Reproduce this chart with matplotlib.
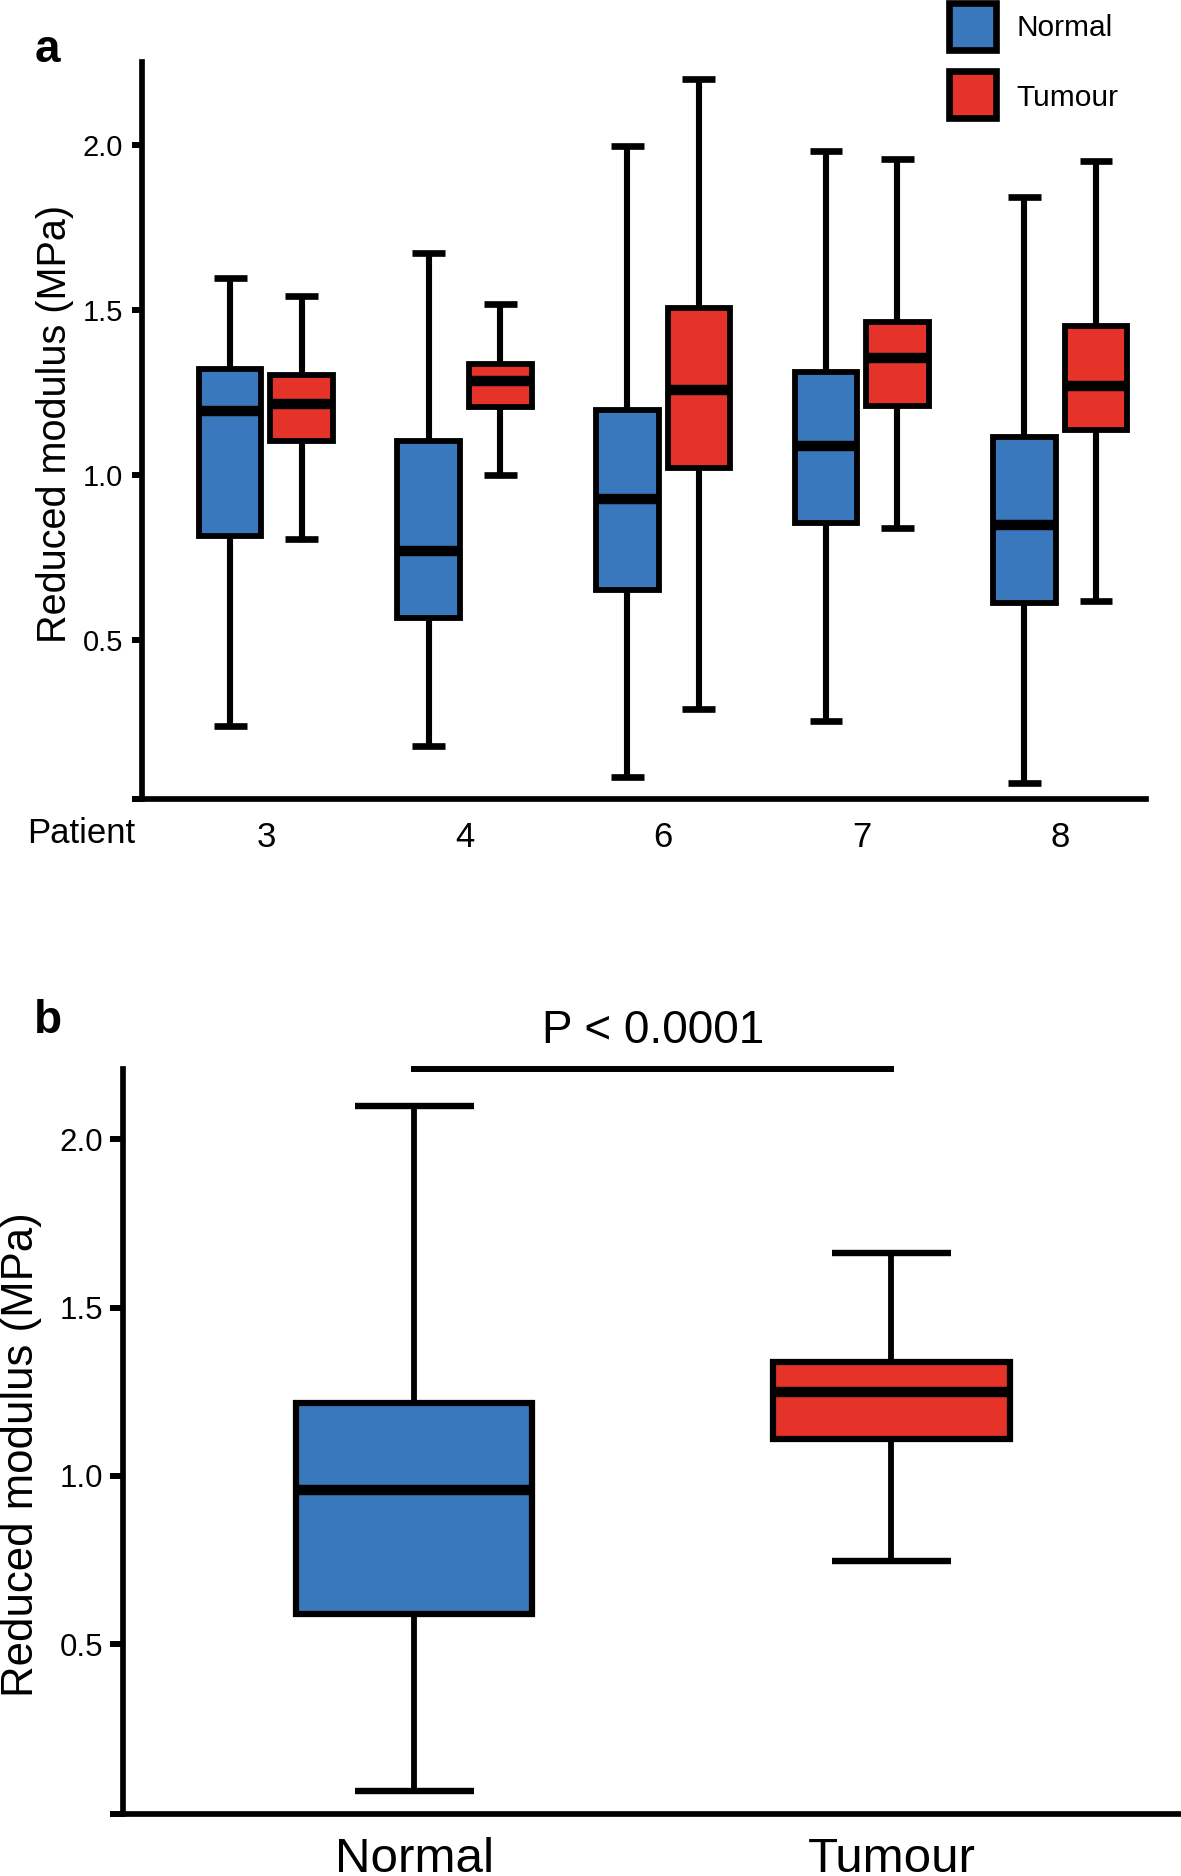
import matplotlib
matplotlib.use("Agg")
import matplotlib.pyplot as plt
from matplotlib.patches import Rectangle

plt.rcParams['font.family'] = ['Liberation Sans', 'DejaVu Sans']

# ---------------- data ----------------
patients = ['3', '4', '6', '7', '8']
series = ['Normal', 'Tumour']
colors = ['#3A78BD', '#E5332A']

normal_whislo = [0.24, 0.18, 0.085, 0.255, 0.067]
normal_q1 = [0.815, 0.566, 0.652, 0.855, 0.612]
normal_med = [1.195, 0.77, 0.928, 1.088, 0.848]
normal_q3 = [1.32, 1.104, 1.198, 1.313, 1.116]
normal_whishi = [1.598, 1.672, 1.995, 1.98, 1.842]

tumour_whislo = [0.805, 1.0, 0.29, 0.84, 0.618]
tumour_q1 = [1.103, 1.205, 1.021, 1.209, 1.137]
tumour_med = [1.215, 1.285, 1.256, 1.354, 1.268]
tumour_q3 = [1.302, 1.336, 1.505, 1.464, 1.451]
tumour_whishi = [1.541, 1.518, 2.20, 1.957, 1.951]

# pooled (panel b): whislo, q1, median, q3, whishi
pooled_normal = [0.064, 0.59, 0.958, 1.217, 2.099]
pooled_tumour = [0.748, 1.11, 1.248, 1.337, 1.663]

yticks = [0.5, 1.0, 1.5, 2.0]
ytick_labels = ['0.5', '1.0', '1.5', '2.0']
ylabel = 'Reduced modulus (MPa)'
p_text = 'P < 0.0001'

W, H = 1181, 1876
fig = plt.figure(figsize=(W / 100, H / 100), dpi=100)


def fx(x):
    return x / W


def fy(y):
    return 1 - y / H


def stats(lo, q1, med, q3, hi):
    return dict(whislo=lo, q1=q1, med=med, q3=q3, whishi=hi, fliers=[])


def draw_boxes(ax, st, pos, color, width, capw, lw_box, lw_med, lw_wh):
    ax.bxp(st, positions=pos, widths=width, capwidths=capw, patch_artist=True,
           showfliers=False, manage_ticks=False,
           boxprops=dict(facecolor=color, edgecolor='black', linewidth=lw_box),
           medianprops=dict(color='black', linewidth=lw_med, solid_capstyle='butt'),
           whiskerprops=dict(color='black', linewidth=lw_wh, solid_capstyle='butt'),
           capprops=dict(color='black', linewidth=lw_wh + 0.4, solid_capstyle='butt'))


def style_axes(ax, ylim, ticklen, tickpad, ticksize):
    for s in ['top', 'right']:
        ax.spines[s].set_visible(False)
    for s in ['left', 'bottom']:
        ax.spines[s].set_linewidth(4.1)
        ax.spines[s].set_color('black')
    ax.set_ylim(*ylim)
    ax.set_yticks(yticks)
    ax.set_yticklabels(ytick_labels)
    ax.set_yticks([ylim[0]], minor=True)
    ax.tick_params(axis='y', which='both', direction='out', length=ticklen,
                   width=4.3, pad=tickpad, labelsize=ticksize, colors='black')
    ax.patch.set_alpha(0)


# ---------------- panel a ----------------
axa = fig.add_axes([fx(141.8), fy(799), fx(1146) - fx(141.8), fy(62.3) - fy(799)])
off = 0.18
xs = list(range(len(patients)))
st_n = [stats(*v) for v in zip(normal_whislo, normal_q1, normal_med, normal_q3, normal_whishi)]
st_t = [stats(*v) for v in zip(tumour_whislo, tumour_q1, tumour_med, tumour_q3, tumour_whishi)]
draw_boxes(axa, st_n, [x - off for x in xs], colors[0], 0.315, 0.165, 4.2, 7.5, 4.4)
draw_boxes(axa, st_t, [x + off for x in xs], colors[1], 0.315, 0.165, 4.2, 7.5, 4.4)
axa.set_xlim(-0.625, 4.432)
style_axes(axa, (0.018, 2.25), 7.2, 6.2, 21)
axa.set_xticks(xs)
axa.set_xticklabels(patients)
axa.tick_params(axis='x', length=0, pad=15.8, labelsize=25)

fig.text(fx(27), fy(843.3), 'Patient', ha='left', va='baseline', fontsize=25)
fig.text(fx(55), fy(424), ylabel, rotation=90, ha='center', va='center', fontsize=28.5)
fig.text(fx(35), fy(61.7), 'a', ha='left', va='baseline', fontsize=33, fontweight='bold')

# legend
for (cy, lab, col, base) in [(26.7, series[0], colors[0], 36), (94.2, series[1], colors[1], 105.5)]:
    s = 46.7
    fig.add_artist(Rectangle((fx(972.3 - s / 2), fy(cy + s / 2)), s / W, s / H,
                             transform=fig.transFigure, facecolor=col,
                             edgecolor='black', linewidth=4.8))
    fig.text(fx(1016.7), fy(base), lab, ha='left', va='baseline', fontsize=21.5)

# ---------------- panel b ----------------
axb = fig.add_axes([fx(123.4), fy(1814.3), 1 - fx(123.4), fy(1068.6) - fy(1814.3)])
draw_boxes(axb, [stats(*pooled_normal)], [0], colors[0], 0.495, 0.25, 4.5, 7.5, 4.2)
draw_boxes(axb, [stats(*pooled_tumour)], [1], colors[1], 0.495, 0.25, 4.5, 7.5, 4.2)
axb.set_xlim(-0.61, 1.607)
style_axes(axb, (-0.004, 2.209), 9.5, 5.0, 22.5)
axb.set_xticks([0, 1])
axb.set_xticklabels(series)
axb.tick_params(axis='x', length=0, pad=16, labelsize=35.5)

axb.plot([0, 1], [2.209, 2.209], color='black', linewidth=4.3,
         solid_capstyle='projecting', clip_on=False)
axb.text(0.5, 2.2855, p_text, ha='center', va='baseline', fontsize=33, clip_on=False)

fig.text(fx(21.5), fy(1455), ylabel, rotation=90, ha='center', va='center', fontsize=31.5)
fig.text(fx(34.4), fy(1032.6), 'b', ha='left', va='baseline', fontsize=33, fontweight='bold')

fig.savefig('out.png', dpi=100)
